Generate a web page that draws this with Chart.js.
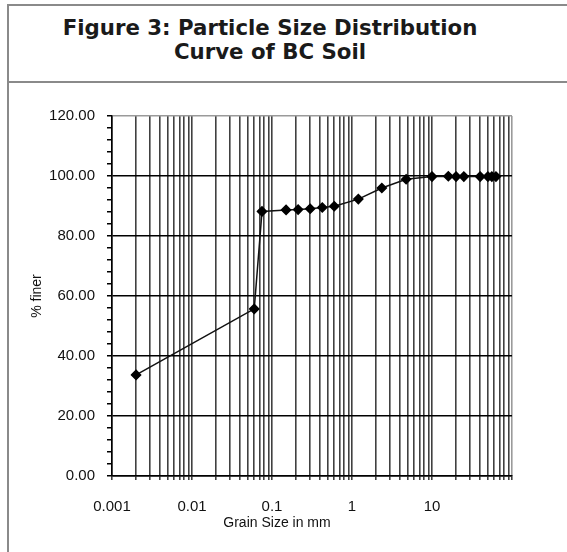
<!DOCTYPE html>
<html>
<head>
<meta charset="utf-8">
<script src="https://cdn.jsdelivr.net/npm/chart.js@4/dist/chart.umd.min.js"></script>
<style>
  html, body { margin:0; padding:0; background:#fff; }
  body { width:567px; height:552px; position:relative; overflow:hidden; }
  #frame { position:absolute; left:7px; top:4px; width:600px; height:600px;
           border-left:2px solid #8a8a8a; border-top:2px solid #8a8a8a; }
  #sep { position:absolute; left:7px; top:81px; width:600px; height:0; border-top:2px solid #8a8a8a; }
  #title { position:absolute; left:270px; top:16px; transform:translateX(-50%);
           white-space:nowrap; text-align:center; font-family:"DejaVu Sans", Verdana, sans-serif;
           font-weight:bold; font-size:21.3px; line-height:24px; color:#1a1a1a; }
  #wrap { position:absolute; left:0; top:0; width:567px; height:552px; }
</style>
</head>
<body>
<div id="frame"></div>
<div id="sep"></div>
<div id="title">Figure 3: Particle Size Distribution<br>Curve of BC Soil</div>
<div id="wrap"><canvas id="c" width="567" height="552"></canvas></div>
<script>
// ---- data ----
const grainSize = [0.002, 0.06, 0.075, 0.15, 0.212, 0.3, 0.425, 0.6, 1.2, 2.36, 4.75, 10, 16, 20, 25, 40, 50, 56, 63];
const percentFiner = [33.7, 55.7, 88.2, 88.7, 88.8, 89.1, 89.5, 89.9, 92.3, 96.0, 98.9, 99.8, 99.9, 99.8, 99.8, 99.8, 99.8, 99.8, 99.8];
const xDecadeLabels = ["0.001", "0.01", "0.1", "1", "10"];
const yMin = 0, yMax = 120, yMajorStep = 20, yMinorStep = 4;
const xMin = 0.001, xMax = 100;
const xTitle = "Grain Size in mm";
const yTitle = "% finer";

const points = grainSize.map((x, i) => ({ x: x, y: percentFiner[i] }));

function isDecade(v) {
  const l = Math.log10(v);
  return Math.abs(l - Math.round(l)) < 1e-6;
}
function decadeLabel(v) {
  const l = Math.round(Math.log10(v));
  const idx = l + 3;
  return (idx >= 0 && idx < xDecadeLabels.length) ? xDecadeLabels[idx] : "";
}

const xTitlePlugin = {
  id: 'xTitlePlugin',
  afterDraw(chart) {
    const ctx = chart.ctx, a = chart.chartArea;
    ctx.save();
    ctx.font = '14px "Liberation Sans", Arial, sans-serif';
    ctx.fillStyle = '#111';
    ctx.textAlign = 'center';
    ctx.textBaseline = 'middle';
    ctx.fillText(xTitle, a.left + 165, 523);
    ctx.restore();
  }
};

new Chart(document.getElementById('c'), {
  type: 'scatter',
  data: {
    datasets: [{
      data: points,
      showLine: true,
      borderColor: '#111',
      borderWidth: 1.5,
      backgroundColor: '#000',
      pointStyle: 'rectRot',
      pointRadius: 4.5,
      pointHoverRadius: 4.5,
      pointBorderColor: '#000',
      tension: 0
    }]
  },
  options: {
    responsive: false,
    animation: false,
    events: [],
    layout: { padding: { left: 22, right: 55, top: 116, bottom: 0 } },
    plugins: { legend: { display: false }, tooltip: { enabled: false }, title: { display: false } },
    scales: {
      x: {
        type: 'logarithmic',
        min: xMin, max: xMax,
        afterFit(s) { s.height = 76; },
        border: { display: true, color: '#000', width: 1.5 },
        grid: {
          color: (c) => (c.tick && Math.abs(c.tick.value - xMax) < 1e-9) ? '#9a9a9a' : 'rgba(0,0,0,0.75)',
          lineWidth: 1.6,
          drawTicks: true,
          tickLength: 4,
          tickColor: 'rgba(0,0,0,0.75)'
        },
        ticks: {
          autoSkip: false,
          maxRotation: 0,
          padding: 18,
          color: '#111',
          font: { family: '"Liberation Sans", Arial, sans-serif', size: 15 },
          callback: (v) => (isDecade(v) ? decadeLabel(v) : '')
        },
        afterBuildTicks(s) {
          const t = [];
          for (let e = -3; e <= 2; e++) {
            for (let m = 1; m <= 9; m++) {
              const v = m * Math.pow(10, e);
              if (v >= xMin * 0.9999 && v <= xMax * 1.0001) t.push({ value: parseFloat(v.toPrecision(6)) });
              if (e === 2) break;
            }
          }
          s.ticks = t;
        }
      },
      y: {
        type: 'linear',
        min: yMin, max: yMax,
        afterFit(s) { s.width = 90; },
        border: { display: true, color: '#000', width: 1.5 },
        title: {
          display: true, text: yTitle, color: '#111',
          font: { family: '"Liberation Sans", Arial, sans-serif', size: 14 },
          padding: { top: 7, bottom: 0 }
        },
        grid: {
          color: (c) => {
            const v = c.tick ? c.tick.value : 0;
            if (v === yMax) return '#9a9a9a';
            return (Math.abs(v % yMajorStep) < 1e-9) ? '#000' : 'rgba(0,0,0,0)';
          },
          lineWidth: 1.5,
          drawTicks: true,
          tickLength: 5,
          tickColor: '#000',
          tickWidth: 1.5
        },
        ticks: {
          stepSize: yMinorStep,
          autoSkip: false,
          padding: 12,
          color: '#111',
          font: { family: '"Liberation Sans", Arial, sans-serif', size: 15 },
          callback: (v) => (Math.abs(v % yMajorStep) < 1e-9 ? v.toFixed(2) : '')
        }
      }
    }
  },
  plugins: [xTitlePlugin]
});
</script>
</body>
</html>
